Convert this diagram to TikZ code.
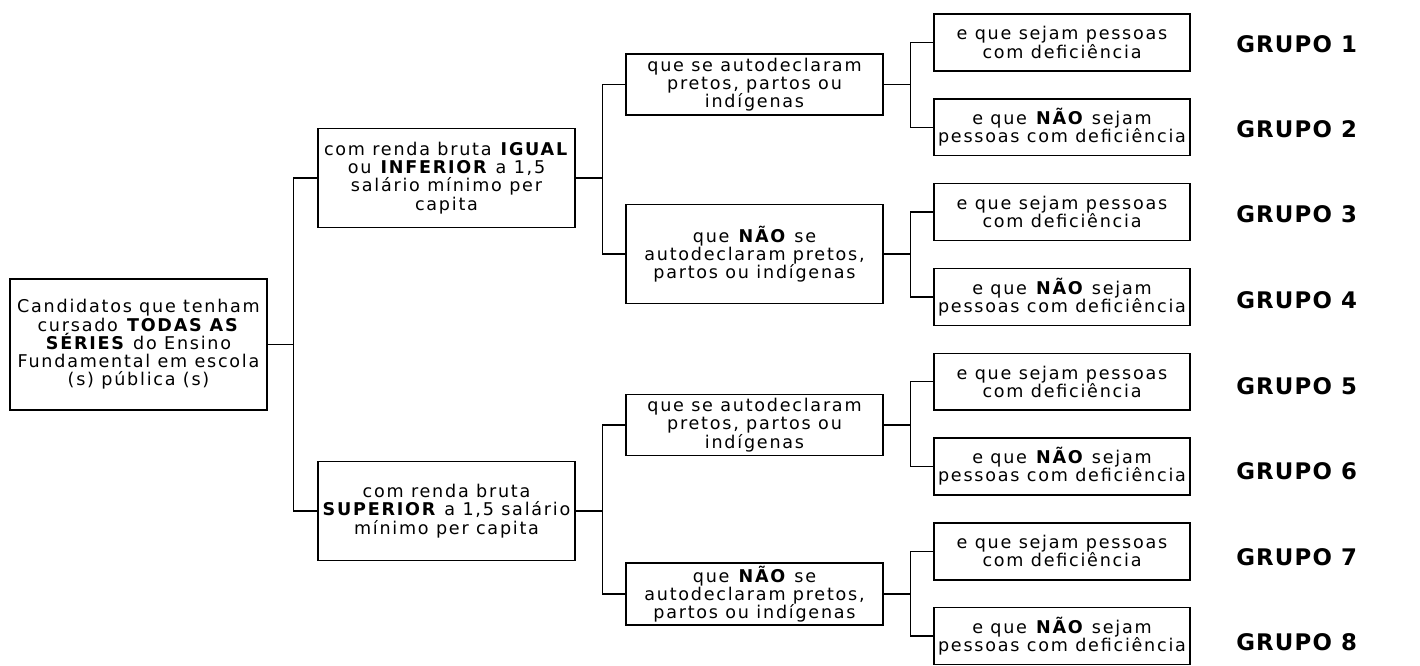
\documentclass[tikz,border=0pt]{standalone}
\usepackage{fontspec}
\setmainfont{DejaVu Sans}[LetterSpace=10]
\newfontfamily\grupofont{DejaVu Sans}[LetterSpace=5]
\tikzset{
    box/.style={draw, line width=0.8pt, align=center, inner sep=1pt,
        minimum width=5.14cm, font=\fontsize{10}{10.4}\selectfont},
    tall/.style={box, minimum height=1.98cm},
    short/.style={box, minimum height=1.22cm},
    leaf/.style={box, minimum width=5.12cm, minimum height=1.14cm},
    grupo/.style={anchor=west, inner sep=0pt, font=\grupofont\fontsize{13}{13}\bfseries},
    link/.style={line width=0.8pt}
}
\begin{document}
\begin{tikzpicture}[x=0.02cm, y=-0.02cm]
    \useasboundingbox (0,0) rectangle (1420,666);
    \node [box, minimum height=2.62cm] (root) at (138.5,344.5) {Candidatos que tenham\\cursado \textbf{TODAS AS}\\\textbf{SÉRIES} do Ensino\\Fundamental em escola\\(s) pública (s)};
    \node [tall] (igual) at (446.5,178) {com renda bruta \textbf{IGUAL}\\ou \textbf{INFERIOR} a 1,5\\salário mínimo per\\capita};
    \node [tall] (superior) at (446.5,511) {com renda bruta\\\textbf{SUPERIOR} a 1,5 salário\\mínimo per capita};
    \node [short] (ppi1) at (754.5,84.5) {que se autodeclaram\\pretos, partos ou\\indígenas};
    \node [tall] (nppi1) at (754.5,254) {que \textbf{NÃO} se\\autodeclaram pretos,\\partos ou indígenas};
    \node [short] (ppi2) at (754.5,425) {que se autodeclaram\\pretos, partos ou\\indígenas};
    \node [short, minimum height=1.24cm] (nppi2) at (754.5,594) {que \textbf{NÃO} se\\autodeclaram pretos,\\partos ou indígenas};
    \node [leaf] (pcd1) at (1062,42.5) {e que sejam pessoas\\com deficiência};
    \node [leaf] (npcd1) at (1062,127.3) {e que \textbf{NÃO} sejam\\pessoas com deficiência};
    \node [leaf] (pcd2) at (1062,212.1) {e que sejam pessoas\\com deficiência};
    \node [leaf] (npcd2) at (1062,296.9) {e que \textbf{NÃO} sejam\\pessoas com deficiência};
    \node [leaf] (pcd3) at (1062,381.7) {e que sejam pessoas\\com deficiência};
    \node [leaf] (npcd3) at (1062,466.5) {e que \textbf{NÃO} sejam\\pessoas com deficiência};
    \node [leaf] (pcd4) at (1062,551.3) {e que sejam pessoas\\com deficiência};
    \node [leaf] (npcd4) at (1062,636.1) {e que \textbf{NÃO} sejam\\pessoas com deficiência};
    \node [grupo] (g1) at (1236,44) {GRUPO 1};
    \node [grupo] (g2) at (1236,129.5) {GRUPO 2};
    \node [grupo] (g3) at (1236,214.5) {GRUPO 3};
    \node [grupo] (g4) at (1236,300) {GRUPO 4};
    \node [grupo] (g5) at (1236,386) {GRUPO 5};
    \node [grupo] (g6) at (1236,471.5) {GRUPO 6};
    \node [grupo] (g7) at (1236,557) {GRUPO 7};
    \node [grupo] (g8) at (1236,642) {GRUPO 8};
    \draw [link] (root.east) -- ++(26,0) |- (igual.west);
    \draw [link] (root.east) -- ++(26,0) |- (superior.west);
    \draw [link] (igual.east) -- ++(27,0) |- (ppi1.west);
    \draw [link] (igual.east) -- ++(27,0) |- (nppi1.west);
    \draw [link] (superior.east) -- ++(27,0) |- (ppi2.west);
    \draw [link] (superior.east) -- ++(27,0) |- (nppi2.west);
    \draw [link] (ppi1.east) -- ++(27,0) |- (pcd1.west);
    \draw [link] (ppi1.east) -- ++(27,0) |- (npcd1.west);
    \draw [link] (nppi1.east) -- ++(27,0) |- (pcd2.west);
    \draw [link] (nppi1.east) -- ++(27,0) |- (npcd2.west);
    \draw [link] (ppi2.east) -- ++(27,0) |- (pcd3.west);
    \draw [link] (ppi2.east) -- ++(27,0) |- (npcd3.west);
    \draw [link] (nppi2.east) -- ++(27,0) |- (pcd4.west);
    \draw [link] (nppi2.east) -- ++(27,0) |- (npcd4.west);
\end{tikzpicture}
\end{document}
